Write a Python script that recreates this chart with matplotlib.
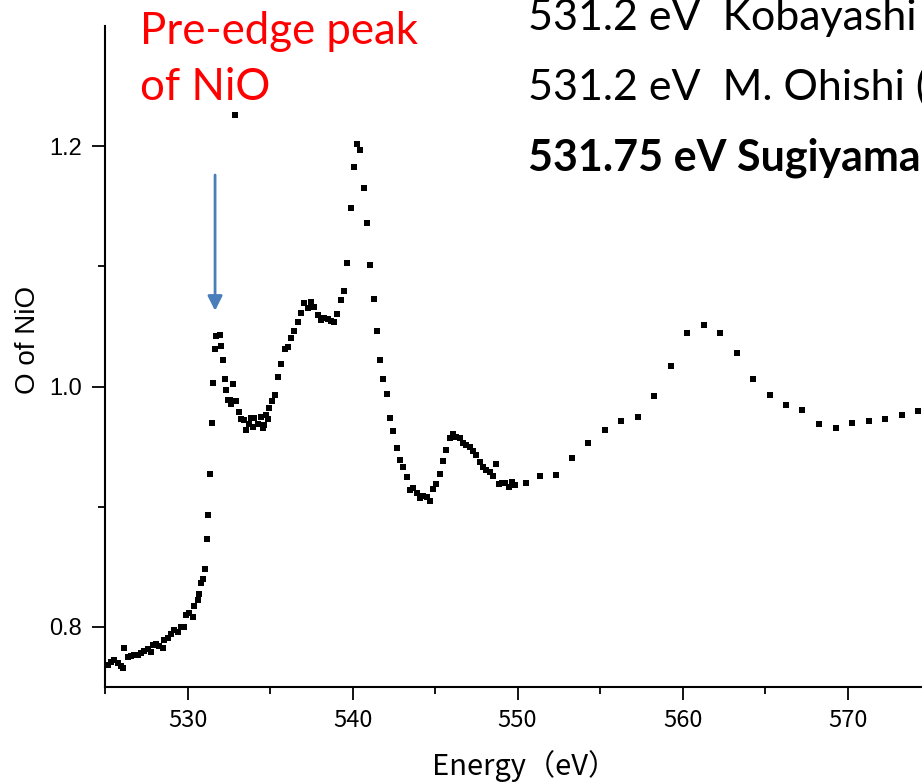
import numpy as np
import matplotlib.pyplot as plt

# O K-edge XAS of NiO
energy = [
    525.16, 525.36, 525.56, 525.77, 525.97, 526.07, 526.17, 526.38, 526.58, 526.78,
    526.98, 527.18, 527.38, 527.59, 527.79, 527.89, 528.09, 528.29, 528.50, 528.59,
    528.80, 529.00, 529.20, 529.41, 529.61, 529.81, 529.91, 530.11, 530.32, 530.41,
    530.62, 530.72, 530.82, 530.92, 531.06, 531.16, 531.26, 531.36, 531.47, 531.56,
    531.65, 531.75, 531.95, 532.05, 532.15, 532.25, 532.35, 532.45, 532.56, 532.65,
    532.76, 532.85, 532.96, 533.10, 533.24, 533.44, 533.56, 533.71, 533.85, 533.95,
    534.05, 534.25, 534.45, 534.56, 534.65, 534.78, 534.86, 534.96, 535.12, 535.30,
    535.50, 535.67, 535.88, 536.09, 536.27, 536.47, 536.68, 536.88, 537.08, 537.28,
    537.48, 537.68, 537.89, 538.09, 538.29, 538.50, 538.70, 538.90, 539.08, 539.28,
    539.48, 539.68, 539.89, 540.07, 540.27, 540.47, 540.68, 540.88, 541.08, 541.28,
    541.48, 541.67, 541.87, 542.07, 542.27, 542.47, 542.68, 542.88, 543.08, 543.28,
    543.48, 543.68, 543.89, 544.09, 544.29, 544.50, 544.70, 544.88, 545.08, 545.28,
    545.48, 545.68, 545.89, 546.09, 546.29, 546.50, 546.70, 546.90, 547.10, 547.30,
    547.50, 547.71, 547.91, 548.11, 548.32, 548.52, 548.68, 548.86, 549.06, 549.26,
    549.47, 549.67, 549.87, 550.53, 551.38, 552.32, 553.28, 554.29, 555.28, 556.27,
    557.28, 558.28, 559.28, 560.29, 561.28, 562.27, 563.28, 564.27, 565.28, 566.27,
    567.26, 568.29, 569.28, 570.27, 571.28, 572.27, 573.28, 574.27,
]
intensity = [
    0.7685, 0.7712, 0.7726, 0.7699, 0.7671, 0.7657, 0.7823, 0.7749, 0.7759, 0.7768,
    0.7768, 0.7787, 0.7803, 0.7815, 0.7795, 0.7851, 0.7859, 0.7837, 0.7828, 0.7892,
    0.7906, 0.7942, 0.7975, 0.7959, 0.7998, 0.8002, 0.8100, 0.8119, 0.8085, 0.8174,
    0.8224, 0.8274, 0.8363, 0.8398, 0.8479, 0.8728, 0.8935, 0.9270, 0.9699, 1.0033,
    1.0310, 1.0423, 1.0432, 1.0338, 1.0222, 1.0064, 0.9975, 0.9884, 0.9890, 0.9856,
    1.0019, 1.2257, 0.9878, 0.9787, 0.9732, 0.9718, 0.9641, 0.9685, 0.9737, 0.9662,
    0.9737, 0.9685, 0.9745, 0.9654, 0.9676, 0.9765, 0.9732, 0.9820, 0.9878, 0.9928,
    1.0080, 1.0188, 1.0311, 1.0328, 1.0401, 1.0459, 1.0539, 1.0614, 1.0697, 1.0653,
    1.0703, 1.0661, 1.0592, 1.0556, 1.0570, 1.0559, 1.0548, 1.0539, 1.0606, 1.0722,
    1.0794, 1.1032, 1.1483, 1.1823, 1.2014, 1.1969, 1.1651, 1.1358, 1.1012, 1.0730,
    1.0459, 1.0224, 1.0066, 0.9936, 0.9740, 0.9627, 0.9491, 0.9386, 0.9328, 0.9245,
    0.9143, 0.9156, 0.9115, 0.9073, 0.9087, 0.9081, 0.9051, 0.9151, 0.9187, 0.9276,
    0.9383, 0.9471, 0.9571, 0.9602, 0.9579, 0.9574, 0.9533, 0.9513, 0.9496, 0.9463,
    0.9427, 0.9375, 0.9328, 0.9309, 0.9289, 0.9259, 0.9359, 0.9193, 0.9195, 0.9198,
    0.9164, 0.9206, 0.9178, 0.9201, 0.9253, 0.9267, 0.9408, 0.9533, 0.9641, 0.9710,
    0.9745, 0.9924, 1.0168, 1.0442, 1.0515, 1.0448, 1.0280, 1.0061, 0.9928, 0.9848,
    0.9809, 0.9685, 0.9654, 0.9695, 0.9712, 0.9729, 0.9762, 0.9795,
]

x_major = [530, 540, 550, 560, 570]
x_minor = [525, 535, 545, 555, 565]
y_major = [0.8, 1.0, 1.2]
y_minor = [0.9, 1.1]
refs = ["531.2 eV  Kobayashi", "531.2 eV  M. Ohishi (", "531.75 eV Sugiyama"]

W, H = 922, 782
fig = plt.figure(figsize=(W / 100, H / 100), dpi=100)
# axes run past the right edge of the canvas, like the cropped original
ax = fig.add_axes([105 / W, 95 / H, 907.5 / W, 661 / H])

ax.plot(energy, intensity, 's', ms=3.8, color='black', mew=0)

ax.set_xlim(525, 580)
ax.set_ylim(0.75, 1.30)
ax.set_xticks(x_major)
ax.set_xticks(x_minor, minor=True)
ax.set_yticks(y_major)
ax.set_yticks(y_minor, minor=True)
ax.yaxis.set_major_formatter(plt.FuncFormatter(lambda v, p: f"{v:.1f}"))

for s in ['top', 'right']:
    ax.spines[s].set_visible(False)
for s in ['left', 'bottom']:
    ax.spines[s].set_linewidth(1.5)
ax.tick_params(which='major', direction='out', length=9.5, width=1.3)
ax.tick_params(which='minor', direction='out', length=5, width=1.3)
ax.tick_params(axis='y', which='major', pad=7, labelsize=17)
ax.tick_params(axis='x', which='major', pad=6, labelsize=17)
for lab in ax.get_yticklabels():
    lab.set_family('Liberation Sans')
for lab in ax.get_xticklabels():
    lab.set_family('Noto Sans CJK JP')

ax.set_ylabel('O of NiO', family='Liberation Sans', fontsize=20, va='center')
ax.yaxis.set_label_coords(-0.0849, 0.525)
ax.set_xlabel('Energy（eV）', family='Noto Sans CJK JP', fontsize=21, va='center')
ax.xaxis.set_label_coords(0.462, -0.12)

# arrow pointing at the pre-edge peak
ax.annotate('', xy=(531.67, 1.063), xytext=(531.67, 1.176),
            arrowprops=dict(arrowstyle='-|>', color='#4a7ebb', lw=2,
                            mutation_scale=22, shrinkA=0, shrinkB=0))


def px(x, y):
    return x / W, 1 - y / H


fig.text(*px(140, 44), 'Pre-edge peak', color='red', family='Lato',
         fontsize=31.5, ha='left', va='baseline')
fig.text(*px(140, 100), 'of NiO', color='red', family='Lato',
         fontsize=31.5, ha='left', va='baseline')
for i, (txt, yb) in enumerate(zip(refs, [30, 100, 170])):
    fig.text(*px(528, yb), txt, color='black', family='Lato', fontsize=31,
             ha='left', va='baseline', fontweight='bold' if i == 2 else 'normal')

fig.savefig('out.png', dpi=100)
